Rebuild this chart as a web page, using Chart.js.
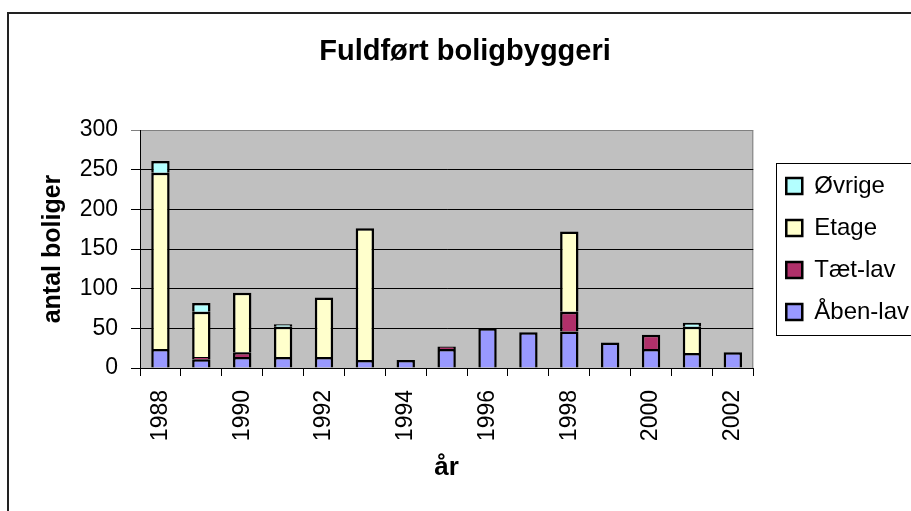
<!DOCTYPE html>
<html>
<head>
<meta charset="utf-8">
<script src="https://cdn.jsdelivr.net/npm/chart.js@4.4.0/dist/chart.umd.min.js"></script>
<style>
  html, body { margin: 0; padding: 0; overflow: hidden; background: #fff; }
  #wrap { width: 919px; height: 511px; }
</style>
</head>
<body>
<div id="wrap"><canvas id="chart"></canvas></div>
<script>
// completed dwellings per year, by building type
const years = ['1988', '1989', '1990', '1991', '1992', '1993', '1994', '1995',
               '1996', '1997', '1998', '1999', '2000', '2001', '2002'];
const aabenLav = [24, 11, 14, 14, 14, 10, 10, 24, 50, 45, 46, 32, 24, 19, 20];
const taetLav  = [0, 3, 6, 0, 0, 0, 0, 3, 0, 0, 25, 0, 18, 0, 0];
const etage    = [222, 57, 75, 38, 75, 166, 0, 0, 0, 0, 101, 0, 0, 33, 0];
const oevrige  = [15, 11, 0, 3, 0, 0, 0, 0, 0, 0, 0, 0, 0, 5, 0];

const xTickLabels = ['1988', '1990', '1992', '1994', '1996', '1998', '2000', '2002'];
const yTicks = [0, 50, 100, 150, 200, 250, 300];

Chart.defaults.font.family = "'Liberation Sans', Arial, sans-serif";
Chart.defaults.color = '#000';

const frame = {
  id: 'frame',
  beforeDraw(chart) {
    const { ctx, chartArea: a } = chart;
    ctx.save();
    ctx.fillStyle = '#fff';
    ctx.fillRect(0, 0, chart.width, chart.height);
    ctx.strokeStyle = '#222';
    ctx.lineWidth = 2;
    ctx.strokeRect(8, 13, chart.width + 40, chart.height + 40);
    ctx.fillStyle = '#c0c0c0';
    ctx.fillRect(a.left, a.top, a.width, a.height);
    ctx.strokeStyle = '#808080';
    ctx.lineWidth = 1;
    ctx.beginPath();
    ctx.moveTo(a.left, a.top + 0.5);
    ctx.lineTo(a.right - 0.5, a.top + 0.5);
    ctx.lineTo(a.right - 0.5, a.bottom);
    ctx.stroke();
    ctx.restore();
  },
  afterDraw(chart) {
    const hb = chart.legend.legendHitBoxes;
    if (!hb || !hb.length) return;
    const { ctx } = chart;
    const left = Math.min(...hb.map(h => h.left)) - 10;
    const top = hb[0].top - 11;
    const last = hb[hb.length - 1];
    const bottom = last.top + last.height + 11;
    ctx.save();
    ctx.strokeStyle = '#000';
    ctx.lineWidth = 1;
    ctx.strokeRect(Math.round(left) + 0.5, Math.round(top) + 0.5, chart.width, Math.round(bottom - top));
    ctx.restore();
  }
};

const ds = (label, data, color) => ({
  label, data,
  backgroundColor: color,
  borderColor: '#000',
  borderWidth: 2.5,
  borderSkipped: 'start',
  barPercentage: 0.45,
  categoryPercentage: 1
});

new Chart(document.getElementById('chart'), {
  type: 'bar',
  data: {
    labels: years,
    datasets: [
      ds('Åben-lav', aabenLav, '#9999ff'),
      ds('Tæt-lav', taetLav, '#b0306a'),
      ds('Etage', etage, '#ffffcc'),
      ds('Øvrige', oevrige, '#b3ffff')
    ]
  },
  options: {
    responsive: true,
    maintainAspectRatio: false,
    animation: false,
    layout: { padding: { left: 11, top: 0, right: 0, bottom: 0 } },
    plugins: {
      tooltip: { enabled: false },
      title: {
        display: true,
        text: 'Fuldført boligbyggeri',
        color: '#000',
        font: { size: 29, weight: 'bold' },
        padding: { top: 34.6, bottom: 60.6 }
      },
      legend: {
        position: 'right',
        fullSize: false,
        reverse: true,
        labels: {
          color: '#000',
          font: { size: 24 },
          boxWidth: 16,
          boxHeight: 16,
          padding: 18
        }
      }
    },
    scales: {
      x: {
        stacked: true,
        offset: true,
        grid: { offset: true, drawOnChartArea: false, color: '#000', tickLength: 8 },
        border: { color: '#000', width: 1 },
        ticks: {
          autoSkip: false,
          minRotation: 90,
          maxRotation: 90,
          padding: 14,
          font: { size: 23 },
          callback(v) {
            const lab = this.getLabelForValue(v);
            return xTickLabels.includes(lab) ? lab : '';
          }
        },
        title: {
          display: true,
          text: 'år',
          font: { size: 26, weight: 'bold' },
          padding: { top: 0, bottom: 28 }
        },
        afterFit(s) { s.height = 143; }
      },
      y: {
        stacked: true,
        min: 0,
        max: 300,
        afterBuildTicks(s) { s.ticks = yTicks.map(v => ({ value: v })); },
        grid: {
          color: c => (c.tick && c.tick.value === 300 ? '#808080' : '#000'),
          tickLength: 9
        },
        border: { color: '#000', width: 1 },
        ticks: { padding: 13, font: { size: 23 } },
        title: {
          display: true,
          text: 'antal boliger',
          font: { size: 25, weight: 'bold' },
          padding: { top: 27, bottom: 0 }
        },
        afterFit(s) { s.width = 129; }
      },
      gap: {
        type: 'linear',
        position: 'right',
        display: true,
        grid: { display: false },
        border: { display: false },
        ticks: { display: false },
        afterFit(s) { s.width = 15; }
      }
    }
  },
  plugins: [frame]
});
</script>
</body>
</html>
